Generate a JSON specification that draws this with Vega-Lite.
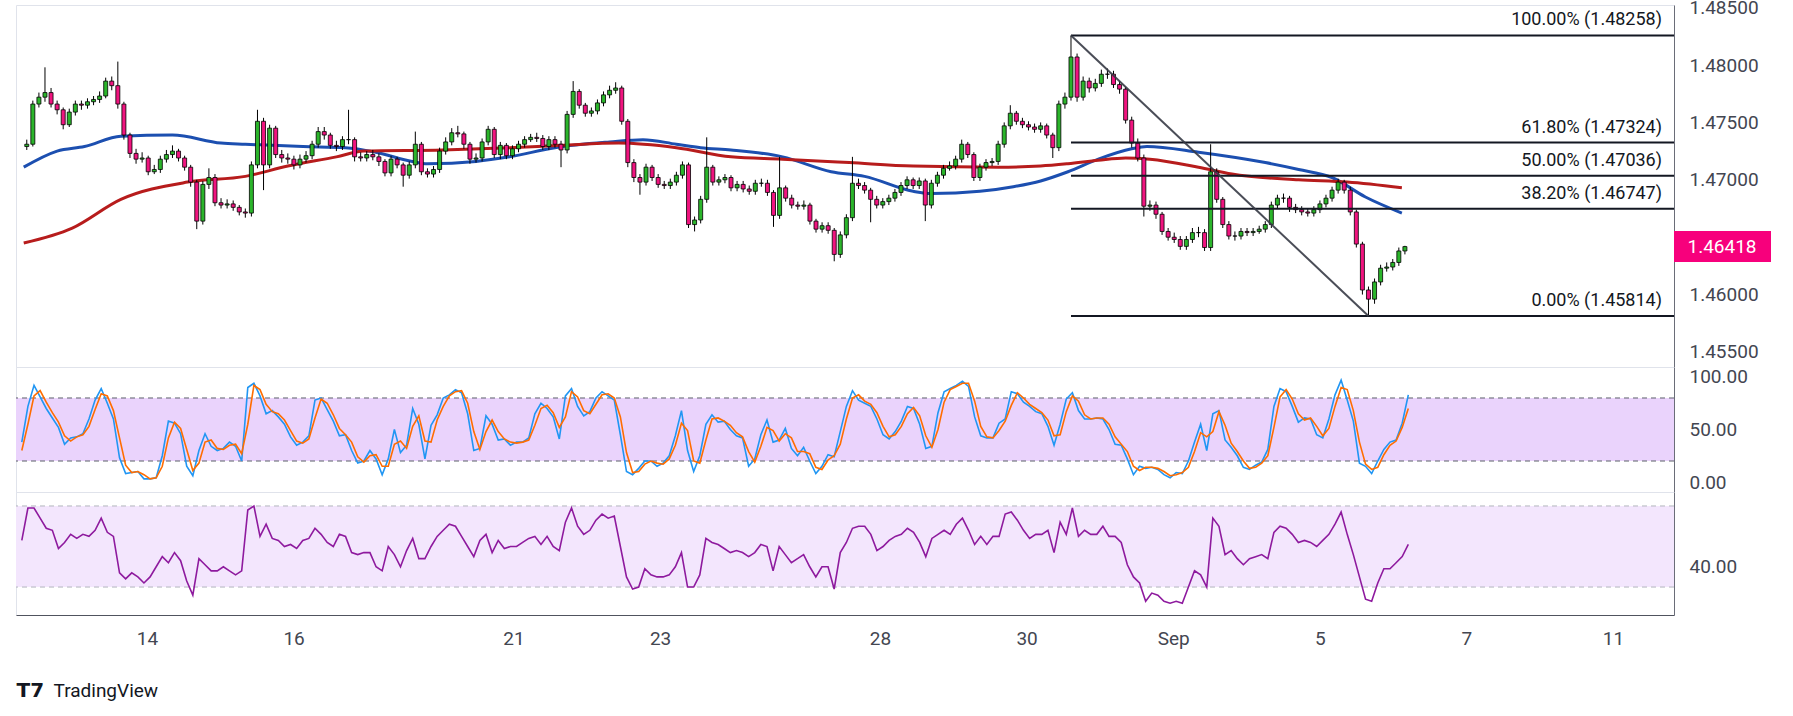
{
  "$schema": "https://vega.github.io/schema/vega-lite/v6.json",
  "description": "EURCAD-style 1h chart with Fibonacci retracement, moving averages, Stochastic and RSI panes",
  "background": "white",
  "padding": {"left": 15, "top": -2, "right": 10, "bottom": 0},
  "bounds": "flush",
  "spacing": 0,
  "config": {
    "font": "Roboto",
    "view": {"stroke": "#e0e3eb", "strokeWidth": 1},
    "axis": {
      "labelFont": "Roboto",
      "labelFontSize": 19,
      "labelColor": "#434651",
      "ticks": false,
      "grid": false,
      "domainColor": "#6a6d78",
      "title": null
    }
  },
  "datasets": {
    "bars": [
      {"t":7,"o":1.4729,"h":1.4735,"l":1.4726,"c":1.4731,"k":38,"d":30,"r":53},
      {"t":9,"o":1.4731,"h":1.4769,"l":1.4729,"c":1.4766,"k":72,"d":55,"r":69},
      {"t":11,"o":1.4766,"h":1.4776,"l":1.4763,"c":1.4772,"k":92,"d":82,"r":69},
      {"t":13,"o":1.4772,"h":1.4798,"l":1.4768,"c":1.4776,"k":81,"d":87,"r":64},
      {"t":15,"o":1.4776,"h":1.478,"l":1.4763,"c":1.4766,"k":70,"d":76,"r":59},
      {"t":17,"o":1.4766,"h":1.4769,"l":1.4757,"c":1.4761,"k":61,"d":66,"r":58},
      {"t":19,"o":1.4761,"h":1.4763,"l":1.4744,"c":1.4748,"k":52,"d":57,"r":49},
      {"t":21,"o":1.4748,"h":1.4762,"l":1.4746,"c":1.4759,"k":36,"d":44,"r":52},
      {"t":23,"o":1.4759,"h":1.4769,"l":1.4756,"c":1.4766,"k":42,"d":39,"r":56},
      {"t":25,"o":1.4766,"h":1.4769,"l":1.4761,"c":1.4765,"k":43,"d":43,"r":54},
      {"t":27,"o":1.4765,"h":1.4771,"l":1.4762,"c":1.4768,"k":46,"d":45,"r":56},
      {"t":29,"o":1.4768,"h":1.4773,"l":1.4765,"c":1.477,"k":60,"d":53,"r":55},
      {"t":31,"o":1.477,"h":1.4777,"l":1.4767,"c":1.4773,"k":78,"d":69,"r":58},
      {"t":33,"o":1.4773,"h":1.4789,"l":1.4771,"c":1.4786,"k":89,"d":84,"r":64},
      {"t":35,"o":1.4786,"h":1.479,"l":1.4778,"c":1.4782,"k":75,"d":82,"r":57},
      {"t":37,"o":1.4782,"h":1.4803,"l":1.4762,"c":1.4766,"k":60,"d":68,"r":55},
      {"t":39,"o":1.4766,"h":1.4768,"l":1.4735,"c":1.4739,"k":23,"d":42,"r":37},
      {"t":41,"o":1.4739,"h":1.4741,"l":1.4719,"c":1.4723,"k":8,"d":16,"r":34},
      {"t":43,"o":1.4723,"h":1.4727,"l":1.4714,"c":1.4718,"k":9,"d":9,"r":37},
      {"t":45,"o":1.4718,"h":1.4724,"l":1.4715,"c":1.4719,"k":10,"d":10,"r":35},
      {"t":47,"o":1.4719,"h":1.4721,"l":1.4704,"c":1.4707,"k":3,"d":7,"r":32},
      {"t":49,"o":1.4707,"h":1.4713,"l":1.4705,"c":1.4709,"k":3,"d":3,"r":35},
      {"t":51,"o":1.4709,"h":1.4721,"l":1.4706,"c":1.4718,"k":4,"d":4,"r":40},
      {"t":53,"o":1.4718,"h":1.4726,"l":1.4715,"c":1.4722,"k":25,"d":15,"r":45},
      {"t":55,"o":1.4722,"h":1.473,"l":1.4719,"c":1.4725,"k":58,"d":42,"r":42},
      {"t":57,"o":1.4725,"h":1.4727,"l":1.4716,"c":1.4719,"k":56,"d":57,"r":47},
      {"t":59,"o":1.4719,"h":1.4721,"l":1.4708,"c":1.4711,"k":46,"d":51,"r":43},
      {"t":61,"o":1.4711,"h":1.4713,"l":1.4694,"c":1.4698,"k":15,"d":31,"r":33},
      {"t":63,"o":1.4698,"h":1.47,"l":1.4657,"c":1.4664,"k":6,"d":11,"r":26},
      {"t":65,"o":1.4664,"h":1.4699,"l":1.4661,"c":1.4696,"k":30,"d":18,"r":44},
      {"t":67,"o":1.4696,"h":1.471,"l":1.4692,"c":1.4702,"k":46,"d":38,"r":41},
      {"t":69,"o":1.4702,"h":1.4705,"l":1.4677,"c":1.468,"k":34,"d":40,"r":38},
      {"t":71,"o":1.468,"h":1.4684,"l":1.4675,"c":1.4678,"k":30,"d":32,"r":38},
      {"t":73,"o":1.4678,"h":1.4683,"l":1.4675,"c":1.4679,"k":32,"d":31,"r":40},
      {"t":75,"o":1.4679,"h":1.4682,"l":1.4673,"c":1.4676,"k":38,"d":35,"r":38},
      {"t":77,"o":1.4676,"h":1.4678,"l":1.4669,"c":1.4672,"k":34,"d":36,"r":36},
      {"t":79,"o":1.4672,"h":1.4675,"l":1.4667,"c":1.4671,"k":20,"d":27,"r":38},
      {"t":81,"o":1.4671,"h":1.4716,"l":1.4668,"c":1.4713,"k":90,"d":55,"r":68},
      {"t":83,"o":1.4713,"h":1.4761,"l":1.471,"c":1.4751,"k":94,"d":92,"r":70},
      {"t":85,"o":1.4751,"h":1.4754,"l":1.4691,"c":1.4713,"k":82,"d":88,"r":55},
      {"t":87,"o":1.4713,"h":1.4748,"l":1.471,"c":1.4745,"k":65,"d":74,"r":61},
      {"t":89,"o":1.4745,"h":1.4747,"l":1.4719,"c":1.4722,"k":68,"d":67,"r":54},
      {"t":91,"o":1.4722,"h":1.4726,"l":1.4715,"c":1.4719,"k":62,"d":65,"r":53},
      {"t":93,"o":1.4719,"h":1.4723,"l":1.4714,"c":1.4718,"k":55,"d":59,"r":50},
      {"t":95,"o":1.4718,"h":1.4721,"l":1.4709,"c":1.4713,"k":43,"d":49,"r":51},
      {"t":97,"o":1.4713,"h":1.4722,"l":1.471,"c":1.4718,"k":35,"d":39,"r":49},
      {"t":99,"o":1.4718,"h":1.4725,"l":1.4715,"c":1.4721,"k":38,"d":37,"r":53},
      {"t":101,"o":1.4721,"h":1.4734,"l":1.4718,"c":1.4731,"k":44,"d":41,"r":54},
      {"t":103,"o":1.4731,"h":1.4746,"l":1.4728,"c":1.4742,"k":78,"d":61,"r":59},
      {"t":105,"o":1.4742,"h":1.4746,"l":1.4735,"c":1.4739,"k":80,"d":79,"r":56},
      {"t":107,"o":1.4739,"h":1.4741,"l":1.4727,"c":1.473,"k":69,"d":75,"r":52},
      {"t":109,"o":1.473,"h":1.4734,"l":1.4725,"c":1.4729,"k":58,"d":64,"r":50},
      {"t":111,"o":1.4729,"h":1.4738,"l":1.4726,"c":1.4735,"k":44,"d":51,"r":56},
      {"t":113,"o":1.4735,"h":1.4761,"l":1.4731,"c":1.4735,"k":45,"d":45,"r":55},
      {"t":115,"o":1.4735,"h":1.4737,"l":1.4716,"c":1.472,"k":30,"d":38,"r":47},
      {"t":117,"o":1.472,"h":1.4724,"l":1.4716,"c":1.4719,"k":18,"d":24,"r":46},
      {"t":119,"o":1.4719,"h":1.4725,"l":1.4716,"c":1.4722,"k":20,"d":19,"r":47},
      {"t":121,"o":1.4722,"h":1.4726,"l":1.4717,"c":1.472,"k":30,"d":25,"r":47},
      {"t":123,"o":1.472,"h":1.4723,"l":1.4712,"c":1.4716,"k":22,"d":26,"r":40},
      {"t":125,"o":1.4716,"h":1.4718,"l":1.4703,"c":1.4706,"k":7,"d":15,"r":38},
      {"t":127,"o":1.4706,"h":1.4721,"l":1.4703,"c":1.4718,"k":22,"d":15,"r":50},
      {"t":129,"o":1.4718,"h":1.472,"l":1.471,"c":1.4713,"k":50,"d":36,"r":46},
      {"t":131,"o":1.4713,"h":1.4715,"l":1.4694,"c":1.4704,"k":28,"d":39,"r":40},
      {"t":133,"o":1.4704,"h":1.4716,"l":1.4701,"c":1.4713,"k":35,"d":32,"r":48},
      {"t":135,"o":1.4713,"h":1.4742,"l":1.471,"c":1.4731,"k":70,"d":53,"r":54},
      {"t":137,"o":1.4731,"h":1.4733,"l":1.4704,"c":1.4707,"k":55,"d":63,"r":44},
      {"t":139,"o":1.4707,"h":1.471,"l":1.4702,"c":1.4705,"k":22,"d":39,"r":44},
      {"t":141,"o":1.4705,"h":1.4712,"l":1.4702,"c":1.4709,"k":54,"d":38,"r":50},
      {"t":143,"o":1.4709,"h":1.4728,"l":1.4706,"c":1.4725,"k":64,"d":59,"r":55},
      {"t":145,"o":1.4725,"h":1.4737,"l":1.4722,"c":1.4733,"k":80,"d":72,"r":58},
      {"t":147,"o":1.4733,"h":1.4745,"l":1.473,"c":1.4741,"k":83,"d":82,"r":61},
      {"t":149,"o":1.4741,"h":1.4747,"l":1.4737,"c":1.474,"k":88,"d":86,"r":60},
      {"t":151,"o":1.474,"h":1.4742,"l":1.4727,"c":1.4731,"k":85,"d":87,"r":55},
      {"t":153,"o":1.4731,"h":1.4733,"l":1.4714,"c":1.4718,"k":65,"d":75,"r":50},
      {"t":155,"o":1.4718,"h":1.4723,"l":1.4715,"c":1.4719,"k":30,"d":48,"r":45},
      {"t":157,"o":1.4719,"h":1.4736,"l":1.4716,"c":1.4733,"k":32,"d":31,"r":53},
      {"t":159,"o":1.4733,"h":1.4747,"l":1.473,"c":1.4744,"k":63,"d":48,"r":56},
      {"t":161,"o":1.4744,"h":1.4746,"l":1.4719,"c":1.4722,"k":55,"d":59,"r":47},
      {"t":163,"o":1.4722,"h":1.4733,"l":1.4718,"c":1.473,"k":40,"d":48,"r":53},
      {"t":165,"o":1.473,"h":1.4732,"l":1.4718,"c":1.4721,"k":41,"d":41,"r":49},
      {"t":167,"o":1.4721,"h":1.473,"l":1.4718,"c":1.4727,"k":35,"d":38,"r":50},
      {"t":169,"o":1.4727,"h":1.4734,"l":1.4724,"c":1.4731,"k":38,"d":37,"r":50},
      {"t":171,"o":1.4731,"h":1.4738,"l":1.4728,"c":1.4735,"k":38,"d":38,"r":52},
      {"t":173,"o":1.4735,"h":1.474,"l":1.4733,"c":1.4737,"k":42,"d":40,"r":54},
      {"t":175,"o":1.4737,"h":1.4741,"l":1.4733,"c":1.4736,"k":65,"d":54,"r":55},
      {"t":177,"o":1.4736,"h":1.4739,"l":1.4726,"c":1.4729,"k":75,"d":70,"r":51},
      {"t":179,"o":1.4729,"h":1.4738,"l":1.4726,"c":1.4735,"k":70,"d":73,"r":55},
      {"t":181,"o":1.4735,"h":1.4738,"l":1.4728,"c":1.4731,"k":62,"d":66,"r":50},
      {"t":183,"o":1.4731,"h":1.4734,"l":1.4711,"c":1.4726,"k":41,"d":52,"r":48},
      {"t":185,"o":1.4726,"h":1.476,"l":1.4723,"c":1.4757,"k":82,"d":62,"r":62},
      {"t":187,"o":1.4757,"h":1.4786,"l":1.4754,"c":1.4777,"k":89,"d":86,"r":69},
      {"t":189,"o":1.4777,"h":1.4779,"l":1.4762,"c":1.4765,"k":72,"d":81,"r":60},
      {"t":191,"o":1.4765,"h":1.4767,"l":1.4755,"c":1.4758,"k":63,"d":68,"r":56},
      {"t":193,"o":1.4758,"h":1.4763,"l":1.4755,"c":1.476,"k":67,"d":65,"r":58},
      {"t":195,"o":1.476,"h":1.477,"l":1.4757,"c":1.4767,"k":80,"d":74,"r":63},
      {"t":197,"o":1.4767,"h":1.4777,"l":1.4764,"c":1.4774,"k":86,"d":83,"r":66},
      {"t":199,"o":1.4774,"h":1.4782,"l":1.4771,"c":1.4778,"k":82,"d":84,"r":64},
      {"t":201,"o":1.4778,"h":1.4785,"l":1.4775,"c":1.478,"k":78,"d":80,"r":65},
      {"t":203,"o":1.478,"h":1.4782,"l":1.4748,"c":1.4751,"k":45,"d":62,"r":50},
      {"t":205,"o":1.4751,"h":1.4753,"l":1.4711,"c":1.4715,"k":10,"d":28,"r":35},
      {"t":207,"o":1.4715,"h":1.4718,"l":1.4698,"c":1.4702,"k":7,"d":9,"r":29},
      {"t":209,"o":1.4702,"h":1.4705,"l":1.4687,"c":1.4698,"k":13,"d":10,"r":30},
      {"t":211,"o":1.4698,"h":1.4714,"l":1.4695,"c":1.4711,"k":20,"d":17,"r":39},
      {"t":213,"o":1.4711,"h":1.4713,"l":1.4699,"c":1.4702,"k":20,"d":20,"r":36},
      {"t":215,"o":1.4702,"h":1.4705,"l":1.4693,"c":1.4696,"k":15,"d":18,"r":35},
      {"t":217,"o":1.4696,"h":1.4699,"l":1.4692,"c":1.4695,"k":18,"d":17,"r":35},
      {"t":219,"o":1.4695,"h":1.4701,"l":1.4692,"c":1.4698,"k":25,"d":22,"r":36},
      {"t":221,"o":1.4698,"h":1.4707,"l":1.4695,"c":1.4704,"k":44,"d":35,"r":40},
      {"t":223,"o":1.4704,"h":1.4716,"l":1.4701,"c":1.4713,"k":68,"d":56,"r":47},
      {"t":225,"o":1.4713,"h":1.4715,"l":1.4658,"c":1.4661,"k":30,"d":49,"r":30},
      {"t":227,"o":1.4661,"h":1.4668,"l":1.4655,"c":1.4665,"k":10,"d":20,"r":30},
      {"t":229,"o":1.4665,"h":1.4686,"l":1.4662,"c":1.4683,"k":25,"d":18,"r":36},
      {"t":231,"o":1.4683,"h":1.4737,"l":1.468,"c":1.4711,"k":55,"d":40,"r":54},
      {"t":233,"o":1.4711,"h":1.4713,"l":1.4695,"c":1.4698,"k":64,"d":60,"r":52},
      {"t":235,"o":1.4698,"h":1.4703,"l":1.4695,"c":1.47,"k":57,"d":61,"r":51},
      {"t":237,"o":1.47,"h":1.4705,"l":1.4697,"c":1.4702,"k":58,"d":58,"r":49},
      {"t":239,"o":1.4702,"h":1.4704,"l":1.469,"c":1.4693,"k":50,"d":54,"r":47},
      {"t":241,"o":1.4693,"h":1.4699,"l":1.469,"c":1.4696,"k":44,"d":47,"r":48},
      {"t":243,"o":1.4696,"h":1.4699,"l":1.4689,"c":1.4692,"k":42,"d":43,"r":47},
      {"t":245,"o":1.4692,"h":1.4695,"l":1.4687,"c":1.469,"k":15,"d":29,"r":45},
      {"t":247,"o":1.469,"h":1.47,"l":1.4687,"c":1.4697,"k":22,"d":19,"r":47},
      {"t":249,"o":1.4697,"h":1.4701,"l":1.4694,"c":1.4697,"k":45,"d":34,"r":51},
      {"t":251,"o":1.4697,"h":1.47,"l":1.4686,"c":1.4689,"k":59,"d":52,"r":50},
      {"t":253,"o":1.4689,"h":1.4691,"l":1.4659,"c":1.4669,"k":38,"d":49,"r":38},
      {"t":255,"o":1.4669,"h":1.472,"l":1.4666,"c":1.4693,"k":40,"d":39,"r":50},
      {"t":257,"o":1.4693,"h":1.4695,"l":1.4681,"c":1.4684,"k":51,"d":46,"r":46},
      {"t":259,"o":1.4684,"h":1.4687,"l":1.4675,"c":1.4678,"k":32,"d":42,"r":42},
      {"t":261,"o":1.4678,"h":1.4681,"l":1.4674,"c":1.4677,"k":25,"d":29,"r":44},
      {"t":263,"o":1.4677,"h":1.4682,"l":1.4674,"c":1.4678,"k":33,"d":29,"r":46},
      {"t":265,"o":1.4678,"h":1.468,"l":1.4661,"c":1.4664,"k":20,"d":27,"r":40},
      {"t":267,"o":1.4664,"h":1.4666,"l":1.4654,"c":1.4657,"k":8,"d":14,"r":35},
      {"t":269,"o":1.4657,"h":1.4663,"l":1.4654,"c":1.466,"k":15,"d":12,"r":40},
      {"t":271,"o":1.466,"h":1.4663,"l":1.4653,"c":1.4656,"k":26,"d":21,"r":40},
      {"t":273,"o":1.4656,"h":1.4658,"l":1.4629,"c":1.4635,"k":24,"d":25,"r":29},
      {"t":275,"o":1.4635,"h":1.4655,"l":1.4632,"c":1.4652,"k":48,"d":36,"r":47},
      {"t":277,"o":1.4652,"h":1.467,"l":1.4649,"c":1.4667,"k":72,"d":60,"r":52},
      {"t":279,"o":1.4667,"h":1.472,"l":1.4664,"c":1.4697,"k":87,"d":80,"r":59},
      {"t":281,"o":1.4697,"h":1.4701,"l":1.4692,"c":1.4695,"k":78,"d":83,"r":60},
      {"t":283,"o":1.4695,"h":1.4698,"l":1.4688,"c":1.4691,"k":75,"d":77,"r":60},
      {"t":285,"o":1.4691,"h":1.4693,"l":1.4663,"c":1.4683,"k":72,"d":74,"r":56},
      {"t":287,"o":1.4683,"h":1.4686,"l":1.4675,"c":1.4678,"k":60,"d":66,"r":48},
      {"t":289,"o":1.4678,"h":1.4684,"l":1.4675,"c":1.4681,"k":45,"d":53,"r":50},
      {"t":291,"o":1.4681,"h":1.4687,"l":1.4678,"c":1.4684,"k":41,"d":43,"r":53},
      {"t":293,"o":1.4684,"h":1.4692,"l":1.4681,"c":1.4689,"k":48,"d":45,"r":55},
      {"t":295,"o":1.4689,"h":1.4698,"l":1.4686,"c":1.4695,"k":58,"d":53,"r":56},
      {"t":297,"o":1.4695,"h":1.4703,"l":1.4692,"c":1.47,"k":72,"d":65,"r":59},
      {"t":299,"o":1.47,"h":1.4702,"l":1.4692,"c":1.4695,"k":70,"d":71,"r":57},
      {"t":301,"o":1.4695,"h":1.4702,"l":1.4692,"c":1.4699,"k":55,"d":63,"r":52},
      {"t":303,"o":1.4699,"h":1.4701,"l":1.4664,"c":1.4678,"k":32,"d":44,"r":45},
      {"t":305,"o":1.4678,"h":1.47,"l":1.4675,"c":1.4697,"k":34,"d":33,"r":54},
      {"t":307,"o":1.4697,"h":1.4707,"l":1.4694,"c":1.4704,"k":66,"d":50,"r":56},
      {"t":309,"o":1.4704,"h":1.4713,"l":1.4701,"c":1.471,"k":86,"d":76,"r":58},
      {"t":311,"o":1.471,"h":1.4716,"l":1.4708,"c":1.4712,"k":89,"d":88,"r":56},
      {"t":313,"o":1.4712,"h":1.4721,"l":1.4709,"c":1.4718,"k":92,"d":91,"r":61},
      {"t":315,"o":1.4718,"h":1.4735,"l":1.4715,"c":1.4731,"k":96,"d":94,"r":64},
      {"t":317,"o":1.4731,"h":1.4733,"l":1.4719,"c":1.4722,"k":91,"d":94,"r":58},
      {"t":319,"o":1.4722,"h":1.4724,"l":1.4699,"c":1.4702,"k":62,"d":77,"r":51},
      {"t":321,"o":1.4702,"h":1.4714,"l":1.4699,"c":1.4711,"k":44,"d":53,"r":55},
      {"t":323,"o":1.4711,"h":1.4718,"l":1.4708,"c":1.4715,"k":42,"d":43,"r":51},
      {"t":325,"o":1.4715,"h":1.4719,"l":1.4712,"c":1.4716,"k":42,"d":42,"r":55},
      {"t":327,"o":1.4716,"h":1.4734,"l":1.4713,"c":1.4731,"k":56,"d":49,"r":55},
      {"t":329,"o":1.4731,"h":1.475,"l":1.4728,"c":1.4747,"k":60,"d":58,"r":66},
      {"t":331,"o":1.4747,"h":1.4765,"l":1.4744,"c":1.4758,"k":86,"d":73,"r":67},
      {"t":333,"o":1.4758,"h":1.476,"l":1.4748,"c":1.4751,"k":84,"d":85,"r":63},
      {"t":335,"o":1.4751,"h":1.4754,"l":1.4745,"c":1.4748,"k":76,"d":80,"r":58},
      {"t":337,"o":1.4748,"h":1.4751,"l":1.4743,"c":1.4746,"k":72,"d":74,"r":54},
      {"t":339,"o":1.4746,"h":1.4749,"l":1.4741,"c":1.4744,"k":67,"d":70,"r":56},
      {"t":341,"o":1.4744,"h":1.475,"l":1.4741,"c":1.4747,"k":65,"d":66,"r":56},
      {"t":343,"o":1.4747,"h":1.4749,"l":1.4736,"c":1.4739,"k":53,"d":59,"r":58},
      {"t":345,"o":1.4739,"h":1.4741,"l":1.4719,"c":1.4728,"k":35,"d":44,"r":47},
      {"t":347,"o":1.4728,"h":1.4769,"l":1.4725,"c":1.4766,"k":55,"d":45,"r":62},
      {"t":349,"o":1.4766,"h":1.4776,"l":1.4762,"c":1.4772,"k":79,"d":67,"r":56},
      {"t":351,"o":1.4772,"h":1.48258,"l":1.4769,"c":1.4807,"k":85,"d":82,"r":69},
      {"t":353,"o":1.4807,"h":1.481,"l":1.4768,"c":1.4772,"k":68,"d":77,"r":55},
      {"t":355,"o":1.4772,"h":1.479,"l":1.4769,"c":1.4786,"k":60,"d":64,"r":58},
      {"t":357,"o":1.4786,"h":1.4789,"l":1.4776,"c":1.478,"k":60,"d":60,"r":56},
      {"t":359,"o":1.478,"h":1.4788,"l":1.4777,"c":1.4784,"k":61,"d":61,"r":56},
      {"t":361,"o":1.4784,"h":1.4796,"l":1.4781,"c":1.4792,"k":60,"d":61,"r":60},
      {"t":363,"o":1.4792,"h":1.4797,"l":1.4788,"c":1.4792,"k":50,"d":55,"r":55},
      {"t":365,"o":1.4792,"h":1.4795,"l":1.478,"c":1.4783,"k":36,"d":43,"r":55},
      {"t":367,"o":1.4783,"h":1.4786,"l":1.4775,"c":1.4779,"k":35,"d":36,"r":52},
      {"t":369,"o":1.4779,"h":1.4781,"l":1.4749,"c":1.4752,"k":22,"d":29,"r":41},
      {"t":371,"o":1.4752,"h":1.4755,"l":1.4728,"c":1.4732,"k":7,"d":15,"r":35},
      {"t":373,"o":1.4732,"h":1.4736,"l":1.4716,"c":1.4719,"k":15,"d":11,"r":32},
      {"t":375,"o":1.4719,"h":1.4722,"l":1.4668,"c":1.4677,"k":13,"d":14,"r":23},
      {"t":377,"o":1.4677,"h":1.4682,"l":1.4673,"c":1.4678,"k":14,"d":14,"r":27},
      {"t":379,"o":1.4678,"h":1.4681,"l":1.4666,"c":1.467,"k":12,"d":13,"r":26},
      {"t":381,"o":1.467,"h":1.4672,"l":1.4652,"c":1.4655,"k":7,"d":10,"r":23},
      {"t":383,"o":1.4655,"h":1.4658,"l":1.4647,"c":1.465,"k":4,"d":6,"r":22},
      {"t":385,"o":1.465,"h":1.4654,"l":1.4645,"c":1.4648,"k":9,"d":7,"r":23},
      {"t":387,"o":1.4648,"h":1.4651,"l":1.4639,"c":1.4642,"k":8,"d":9,"r":22},
      {"t":389,"o":1.4642,"h":1.4651,"l":1.4639,"c":1.4648,"k":20,"d":14,"r":30},
      {"t":391,"o":1.4648,"h":1.4658,"l":1.4645,"c":1.4654,"k":38,"d":29,"r":38},
      {"t":393,"o":1.4654,"h":1.4659,"l":1.465,"c":1.4654,"k":55,"d":47,"r":36},
      {"t":395,"o":1.4654,"h":1.4657,"l":1.4638,"c":1.4641,"k":30,"d":43,"r":30},
      {"t":397,"o":1.4641,"h":1.4731,"l":1.4638,"c":1.4707,"k":65,"d":48,"r":64},
      {"t":399,"o":1.4707,"h":1.471,"l":1.468,"c":1.4683,"k":68,"d":67,"r":60},
      {"t":401,"o":1.4683,"h":1.4685,"l":1.4658,"c":1.4661,"k":40,"d":54,"r":46},
      {"t":403,"o":1.4661,"h":1.4664,"l":1.4648,"c":1.4651,"k":33,"d":37,"r":48},
      {"t":405,"o":1.4651,"h":1.4655,"l":1.4647,"c":1.4651,"k":25,"d":29,"r":44},
      {"t":407,"o":1.4651,"h":1.4658,"l":1.4648,"c":1.4655,"k":14,"d":20,"r":41},
      {"t":409,"o":1.4655,"h":1.4658,"l":1.4651,"c":1.4654,"k":12,"d":13,"r":44},
      {"t":411,"o":1.4654,"h":1.4658,"l":1.4651,"c":1.4655,"k":16,"d":14,"r":45},
      {"t":413,"o":1.4655,"h":1.466,"l":1.4653,"c":1.4657,"k":19,"d":18,"r":46},
      {"t":415,"o":1.4657,"h":1.4664,"l":1.4654,"c":1.4661,"k":31,"d":25,"r":44},
      {"t":417,"o":1.4661,"h":1.4681,"l":1.4658,"c":1.4678,"k":72,"d":52,"r":57},
      {"t":419,"o":1.4678,"h":1.4687,"l":1.4675,"c":1.4684,"k":89,"d":81,"r":60},
      {"t":421,"o":1.4684,"h":1.4688,"l":1.468,"c":1.4684,"k":86,"d":88,"r":59},
      {"t":423,"o":1.4684,"h":1.4686,"l":1.4672,"c":1.4676,"k":72,"d":79,"r":56},
      {"t":425,"o":1.4676,"h":1.4679,"l":1.4671,"c":1.4674,"k":57,"d":65,"r":52},
      {"t":427,"o":1.4674,"h":1.4677,"l":1.4669,"c":1.4672,"k":61,"d":59,"r":53},
      {"t":429,"o":1.4672,"h":1.4675,"l":1.4668,"c":1.4671,"k":60,"d":61,"r":52},
      {"t":431,"o":1.4671,"h":1.4677,"l":1.4668,"c":1.4674,"k":45,"d":53,"r":50},
      {"t":433,"o":1.4674,"h":1.4682,"l":1.4671,"c":1.4679,"k":42,"d":44,"r":53},
      {"t":435,"o":1.4679,"h":1.4687,"l":1.4676,"c":1.4684,"k":60,"d":51,"r":56},
      {"t":437,"o":1.4684,"h":1.4694,"l":1.4681,"c":1.4691,"k":83,"d":72,"r":61},
      {"t":439,"o":1.4691,"h":1.4701,"l":1.4688,"c":1.4698,"k":97,"d":90,"r":67},
      {"t":441,"o":1.4698,"h":1.47,"l":1.4688,"c":1.4691,"k":78,"d":88,"r":56},
      {"t":443,"o":1.4691,"h":1.4694,"l":1.4669,"c":1.4672,"k":58,"d":68,"r":46},
      {"t":445,"o":1.4672,"h":1.4674,"l":1.4641,"c":1.4644,"k":18,"d":38,"r":35},
      {"t":447,"o":1.4644,"h":1.4646,"l":1.46,"c":1.4604,"k":15,"d":17,"r":24},
      {"t":449,"o":1.4604,"h":1.4607,"l":1.45814,"c":1.4596,"k":8,"d":12,"r":23},
      {"t":451,"o":1.4596,"h":1.4614,"l":1.4592,"c":1.4611,"k":20,"d":14,"r":32},
      {"t":453,"o":1.4611,"h":1.4626,"l":1.4608,"c":1.4623,"k":31,"d":26,"r":39},
      {"t":455,"o":1.4623,"h":1.4628,"l":1.462,"c":1.4624,"k":38,"d":35,"r":39},
      {"t":457,"o":1.4624,"h":1.4631,"l":1.4621,"c":1.4628,"k":40,"d":39,"r":42},
      {"t":459,"o":1.4628,"h":1.4641,"l":1.4625,"c":1.4638,"k":56,"d":52,"r":45},
      {"t":461,"o":1.4638,"h":1.46425,"l":1.4635,"c":1.46418,"k":83,"d":70,"r":51}
    ],
    "ma": [
      {"t":6,"s":"fast","p":1.4711},{"t":17,"s":"fast","p":1.4725},{"t":26,"s":"fast","p":1.4729},
      {"t":38,"s":"fast","p":1.4738},{"t":55,"s":"fast","p":1.4739},{"t":71,"s":"fast","p":1.4732},
      {"t":79,"s":"fast","p":1.4731},{"t":98,"s":"fast","p":1.4729},{"t":112,"s":"fast","p":1.4728},
      {"t":122,"s":"fast","p":1.4724},{"t":134,"s":"fast","p":1.4716},{"t":139,"s":"fast","p":1.4714},
      {"t":155,"s":"fast","p":1.4716},{"t":166,"s":"fast","p":1.472},{"t":181,"s":"fast","p":1.4728},
      {"t":199,"s":"fast","p":1.4733},{"t":210,"s":"fast","p":1.4735},{"t":221,"s":"fast","p":1.4731},
      {"t":229,"s":"fast","p":1.4728},{"t":239,"s":"fast","p":1.4726},{"t":256,"s":"fast","p":1.472},
      {"t":272,"s":"fast","p":1.4707},{"t":283,"s":"fast","p":1.4703},{"t":299,"s":"fast","p":1.469},
      {"t":305,"s":"fast","p":1.4688},{"t":321,"s":"fast","p":1.469},{"t":332,"s":"fast","p":1.4694},
      {"t":341,"s":"fast","p":1.4699},{"t":350,"s":"fast","p":1.4707},{"t":360,"s":"fast","p":1.4718},
      {"t":371,"s":"fast","p":1.4727},{"t":376,"s":"fast","p":1.4729},{"t":393,"s":"fast","p":1.4724},
      {"t":415,"s":"fast","p":1.4715},{"t":426,"s":"fast","p":1.4709},{"t":437,"s":"fast","p":1.4702},
      {"t":448,"s":"fast","p":1.4685},{"t":460,"s":"fast","p":1.4671},
      {"t":6,"s":"slow","p":1.4645},{"t":22,"s":"slow","p":1.4658},{"t":38,"s":"slow","p":1.4683},
      {"t":60,"s":"slow","p":1.4698},{"t":79,"s":"slow","p":1.4703},{"t":93,"s":"slow","p":1.4712},
      {"t":109,"s":"slow","p":1.472},{"t":118,"s":"slow","p":1.4725},{"t":144,"s":"slow","p":1.4726},
      {"t":166,"s":"slow","p":1.4728},{"t":183,"s":"slow","p":1.473},{"t":202,"s":"slow","p":1.4732},
      {"t":221,"s":"slow","p":1.4728},{"t":239,"s":"slow","p":1.472},{"t":256,"s":"slow","p":1.4718},
      {"t":278,"s":"slow","p":1.4715},{"t":299,"s":"slow","p":1.4712},{"t":327,"s":"slow","p":1.4711},
      {"t":341,"s":"slow","p":1.4712},{"t":350,"s":"slow","p":1.4714},{"t":360,"s":"slow","p":1.4717},
      {"t":369,"s":"slow","p":1.4719},{"t":377,"s":"slow","p":1.4718},{"t":393,"s":"slow","p":1.4711},
      {"t":404,"s":"slow","p":1.4705},{"t":426,"s":"slow","p":1.47},{"t":442,"s":"slow","p":1.4698},
      {"t":460,"s":"slow","p":1.4693}
    ],
    "fib": [
      {"label":"100.00% (1.48258)","p":1.48258,"t0":351},
      {"label":"61.80% (1.47324)","p":1.47324,"t0":351},
      {"label":"50.00% (1.47036)","p":1.47036,"t0":351},
      {"label":"38.20% (1.46747)","p":1.46747,"t0":351},
      {"label":"0.00% (1.45814)","p":1.45814,"t0":351}
    ],
    "trend": [{"t0":351,"p0":1.48258,"t1":449,"p1":1.45814}],
    "last": [{"p":1.46418,"label":"1.46418"}],
    "stochBand": [{"lo":20,"hi":80}],
    "stochLevels": [{"v":20},{"v":80}],
    "rsiBand": [{"lo":30,"hi":70}],
    "rsiLevels": [{"v":30},{"v":70}]
  },
  "vconcat": [
    {
      "width": 1658,
      "height": 362,
      "layer": [
        {
          "data": {"name": "ma"},
          "mark": {"type": "line", "strokeWidth": 3, "interpolate": "monotone", "clip": true},
          "encoding": {
            "x": {"field": "t", "type": "quantitative", "scale": {"domain": [5.1, 548], "nice": false, "zero": false}, "axis": null},
            "y": {
              "field": "p", "type": "quantitative",
              "scale": {"domain": [1.45369, 1.48523], "nice": false, "zero": false},
              "axis": {"orient": "right", "values": [1.455, 1.46, 1.465, 1.47, 1.475, 1.48, 1.485], "format": ".5f", "labelPadding": 15, "labelOverlap": false}
            },
            "color": {"field": "s", "type": "nominal", "scale": {"domain": ["fast", "slow"], "range": ["#1c4fb0", "#b71c1c"]}, "legend": null}
          }
        },
        {
          "data": {"name": "bars"},
          "mark": {"type": "rule", "color": "#000000", "strokeWidth": 1},
          "encoding": {
            "x": {"field": "t", "type": "quantitative"},
            "y": {"field": "l", "type": "quantitative"},
            "y2": {"field": "h"}
          }
        },
        {
          "data": {"name": "bars"},
          "mark": {"type": "bar", "orient": "vertical", "width": 4, "stroke": "#000000", "strokeWidth": 0.8},
          "encoding": {
            "x": {"field": "t", "type": "quantitative"},
            "y": {"field": "o", "type": "quantitative"},
            "y2": {"field": "c"},
            "fill": {"condition": {"test": "datum.c >= datum.o", "value": "#2bb52b"}, "value": "#f0147f"}
          }
        },
        {
          "data": {"name": "fib"},
          "mark": {"type": "rule", "color": "#131722", "strokeWidth": 2},
          "encoding": {
            "x": {"field": "t0", "type": "quantitative"},
            "x2": {"value": "width"},
            "y": {"field": "p", "type": "quantitative"}
          }
        },
        {
          "data": {"name": "trend"},
          "mark": {"type": "rule", "color": "#363a45", "strokeWidth": 2, "opacity": 0.9},
          "encoding": {
            "x": {"field": "t0", "type": "quantitative"},
            "x2": {"field": "t1"},
            "y": {"field": "p0", "type": "quantitative"},
            "y2": {"field": "p1"}
          }
        },
        {
          "data": {"name": "fib"},
          "mark": {"type": "text", "align": "right", "baseline": "bottom", "dx": -12, "dy": -6, "fontSize": 18, "font": "Roboto", "color": "#131722"},
          "encoding": {
            "x": {"value": "width"},
            "y": {"field": "p", "type": "quantitative"},
            "text": {"field": "label"}
          }
        },
        {
          "data": {"name": "last"},
          "mark": {"type": "point", "shape": "M0,-0.31L1.94,-0.31L1.94,0.31L0,0.31Z", "size": 10000, "filled": true, "opacity": 1, "color": "#f7007c", "strokeWidth": 0},
          "encoding": {
            "x": {"value": "width"},
            "y": {"field": "p", "type": "quantitative"}
          }
        },
        {
          "data": {"name": "last"},
          "mark": {"type": "text", "align": "center", "baseline": "middle", "dx": 48, "fontSize": 19, "font": "Roboto", "color": "#ffffff"},
          "encoding": {
            "x": {"value": "width"},
            "y": {"field": "p", "type": "quantitative"},
            "text": {"field": "label"}
          }
        }
      ]
    },
    {
      "width": 1658,
      "height": 125,
      "layer": [
        {
          "data": {"name": "stochBand"},
          "mark": {"type": "rect", "color": "#ead3fc"},
          "encoding": {
            "x": {"value": 0},
            "x2": {"value": "width"},
            "y": {"field": "lo", "type": "quantitative", "scale": {"domain": [-9.5, 109.5], "nice": false, "zero": false},
              "axis": {"orient": "right", "values": [0, 50, 100], "format": ".2f", "labelPadding": 15, "labelOverlap": false}},
            "y2": {"field": "hi"}
          }
        },
        {
          "data": {"name": "stochLevels"},
          "mark": {"type": "rule", "color": "#5d606b", "strokeDash": [5, 4], "strokeWidth": 1},
          "encoding": {"y": {"field": "v", "type": "quantitative"}}
        },
        {
          "data": {"name": "bars"},
          "mark": {"type": "line", "color": "#2196f3", "strokeWidth": 1.6},
          "encoding": {
            "x": {"field": "t", "type": "quantitative", "scale": {"domain": [5.1, 548], "nice": false, "zero": false},
              "axis": {"labels": false, "domain": false, "title": "T7", "titleFont": "DejaVu Sans", "titleFontWeight": "bold", "titleFontSize": 20, "titleColor": "#131722", "titleAnchor": "start", "titleAlign": "left", "titleBaseline": "middle", "titleX": 0, "titleY": 198}},
            "y": {"field": "k", "type": "quantitative"}
          }
        },
        {
          "data": {"name": "bars"},
          "mark": {"type": "line", "color": "#ff6d00", "strokeWidth": 1.6},
          "encoding": {
            "x": {"field": "t", "type": "quantitative"},
            "y": {"field": "d", "type": "quantitative"}
          }
        }
      ]
    },
    {
      "width": 1658,
      "height": 123,
      "layer": [
        {
          "data": {"name": "rsiBand"},
          "mark": {"type": "rect", "color": "#f3e6fd"},
          "encoding": {
            "x": {"value": 0},
            "x2": {"value": "width"},
            "y": {"field": "lo", "type": "quantitative", "scale": {"domain": [16.2, 76.9], "nice": false, "zero": false},
              "axis": {"orient": "right", "values": [40], "format": ".2f", "labelPadding": 15}},
            "y2": {"field": "hi"}
          }
        },
        {
          "data": {"name": "rsiLevels"},
          "mark": {"type": "rule", "color": "#b2b5be", "strokeDash": [5, 4], "strokeWidth": 1},
          "encoding": {"y": {"field": "v", "type": "quantitative"}}
        },
        {
          "data": {"name": "bars"},
          "mark": {"type": "line", "color": "#8e1a9e", "strokeWidth": 1.6},
          "encoding": {
            "x": {
              "field": "t", "type": "quantitative",
              "scale": {"domain": [5.1, 548], "nice": false, "zero": false},
              "axis": {
                "values": [48, 96, 168, 216, 288, 336, 384, 432, 480, 528],
                "labelExpr": "datum.value == 48 ? '14' : datum.value == 96 ? '16' : datum.value == 168 ? '21' : datum.value == 216 ? '23' : datum.value == 288 ? '28' : datum.value == 336 ? '30' : datum.value == 384 ? 'Sep' : datum.value == 432 ? '5' : datum.value == 480 ? '7' : '11'",
                "labelPadding": 14,
                "domainColor": "#50535e",
                "title": "TradingView",
                "titleFont": "Roboto",
                "titleFontWeight": "normal",
                "titleFontSize": 19,
                "titleColor": "#131722",
                "titleAnchor": "start",
                "titleAlign": "left",
                "titleBaseline": "middle",
                "titleX": 37,
                "titleY": 75
              }
            },
            "y": {"field": "r", "type": "quantitative"}
          }
        }
      ]
    }
  ]
}
